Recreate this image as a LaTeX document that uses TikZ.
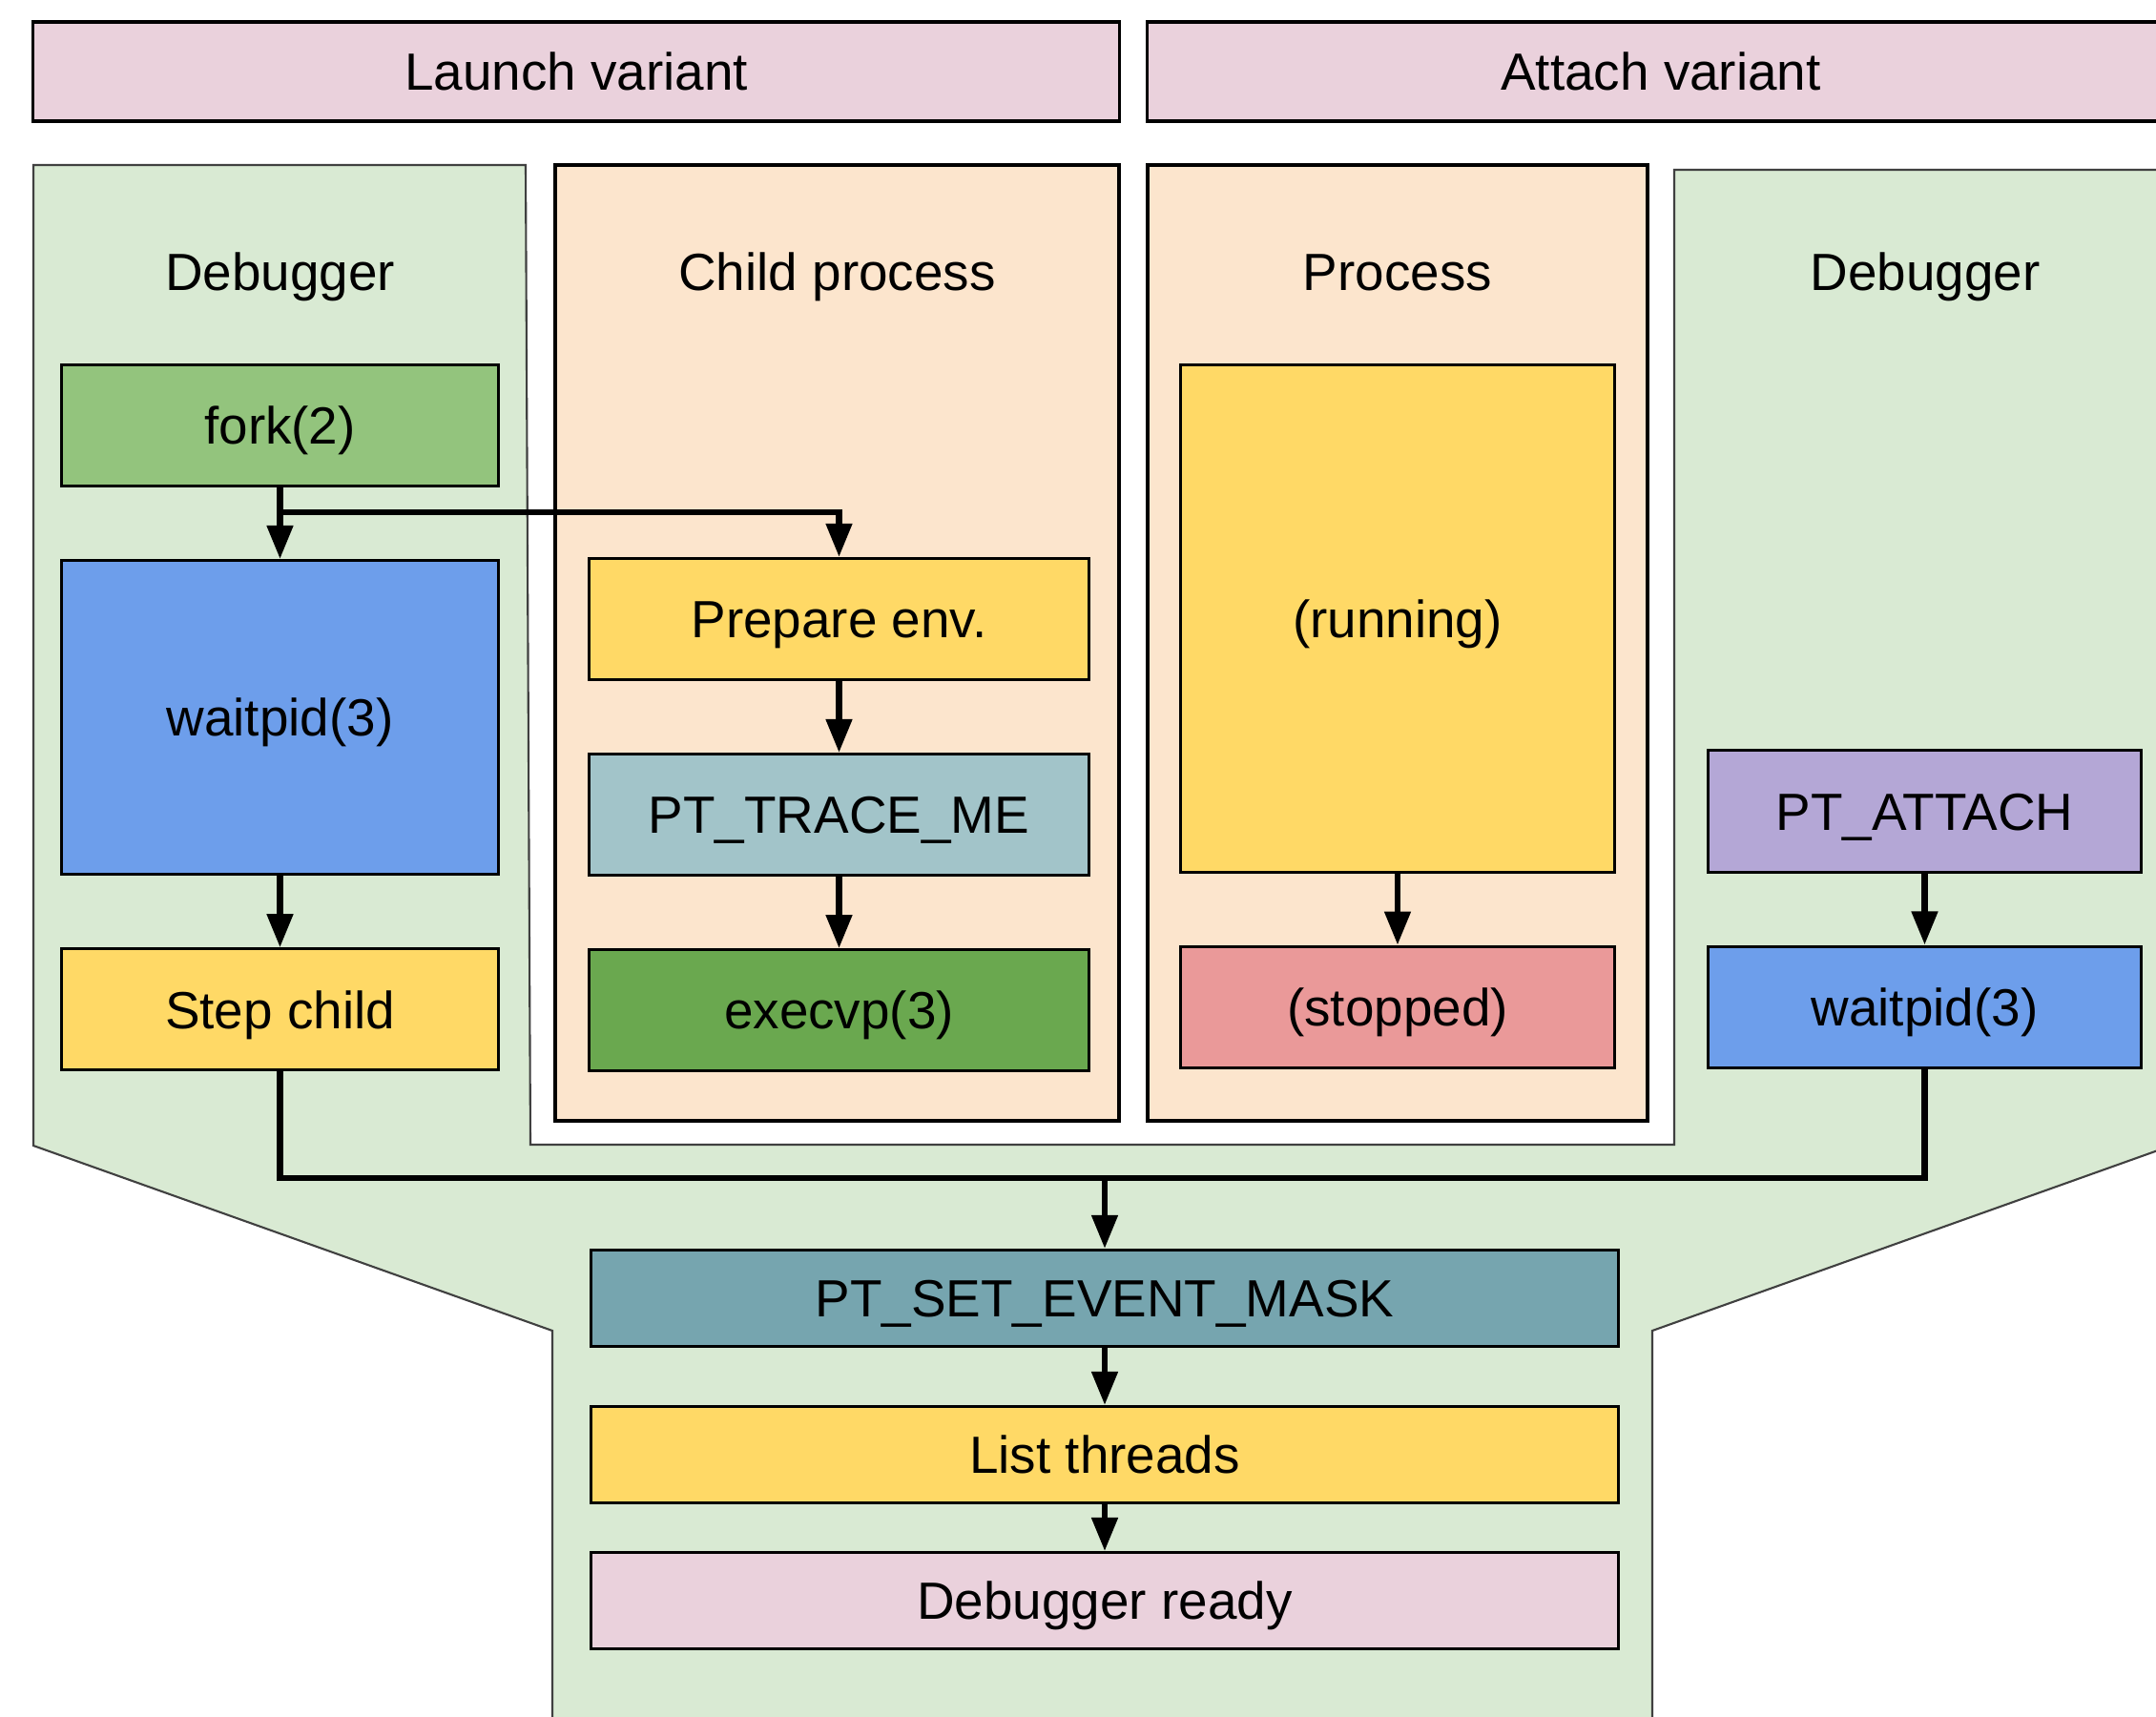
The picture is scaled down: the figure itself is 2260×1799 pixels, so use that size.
\documentclass[tikz,border=0pt]{standalone}
\usepackage{fontspec}
\setmainfont{Liberation Sans}
\usetikzlibrary{arrows.meta,positioning}
\definecolor{variantpink}{HTML}{EAD1DC}
\definecolor{debuggergreen}{HTML}{D9EAD3}
\definecolor{processpeach}{HTML}{FCE5CD}
\definecolor{forkgreen}{HTML}{93C47D}
\definecolor{execgreen}{HTML}{6AA84F}
\definecolor{waitblue}{HTML}{6D9EEB}
\definecolor{stepyellow}{HTML}{FFD966}
\definecolor{tracecyan}{HTML}{A2C4C9}
\definecolor{maskcyan}{HTML}{76A5AF}
\definecolor{stoppedred}{HTML}{EA9999}
\definecolor{attachpurple}{HTML}{B4A7D6}
\tikzset{
	call/.style={
		rectangle,
		draw=black, line width=0.85pt,
		minimum height=1.27cm,
		inner sep=2pt,
		text height=11.2pt, text depth=0pt,
		text centered,
	},
	variant/.style={
		call, fill=variantpink, line width=1pt,
		minimum height=1.04cm,
	},
	lane/.style={draw=black, line width=1pt, fill=processpeach},
	title/.style={anchor=base},
	flow/.style={line width=1.9pt, -{Triangle[length=10pt,width=7.5pt]}},
}

\begin{document}
\begin{tikzpicture}[x=0.01cm, y=-0.01cm, node distance=0.75cm, font=\fontsize{15.6pt}{18pt}\selectfont]
\useasboundingbox (0,0) rectangle (2260,1799);

% debugger background with the notch for the two processes
\filldraw[fill=debuggergreen, draw=black!75, line width=0.6pt] (35,173) -- (551,173) -- (556,1200) -- (1755,1200) -- (1755,178) -- (2290,178) -- (2290,1196) -- (1732,1395) -- (1732,1830) -- (579,1830) -- (579,1395) -- (35,1201) -- cycle;
\draw[lane] (582,173) rectangle (1173,1175);
\draw[lane] (1203,173) rectangle (1727,1175);

\node	(launch)	[variant, minimum width=11.38cm]	at (604,75)	{Launch variant};
\node	(attach)	[variant, minimum width=10.76cm]	at (1741,75)	{Attach variant};

\node	(dbgleft)	[title]	at (293.5,304)	{Debugger};
\node	(child)		[title]	at (877.5,304)	{Child process};
\node	(proc)		[title]	at (1465,304)	{Process};
\node	(dbgright)	[title]	at (2018,304)	{Debugger};

\node	(fork)		[call, fill=forkgreen, minimum width=4.57cm]	at (293.5,446)	{fork(2)};
\node	(waitpid)	[call, fill=waitblue, minimum width=4.57cm, minimum height=3.29cm]	[below=of fork]	{waitpid(3)};
\node	(step)		[call, fill=stepyellow, minimum width=4.57cm]	[below=of waitpid]	{Step child};

\node	(prepare)	[call, fill=stepyellow, minimum width=5.23cm]	at (879.5,649)	{Prepare env.};
\node	(traceme)	[call, fill=tracecyan, minimum width=5.23cm]	[below=of prepare]	{PT\_TRACE\_ME};
\node	(execvp)	[call, fill=execgreen, minimum width=5.23cm]	[below=of traceme]	{execvp(3)};

\node	(running)	[call, fill=stepyellow, minimum width=4.54cm, minimum height=5.31cm]	at (1465,648.5)	{(running)};
\node	(stopped)	[call, fill=stoppedred, minimum width=4.54cm]	[below=of running]	{(stopped)};

\node	(ptattach)	[call, fill=attachpurple, minimum width=4.53cm]	at (2017.5,850.5)	{PT\_ATTACH};
\node	(waitpid2)	[call, fill=waitblue, minimum width=4.53cm]	[below=of ptattach]	{waitpid(3)};

\node	(setmask)	[call, fill=maskcyan, minimum width=10.76cm, minimum height=1.01cm]	at (1158,1361)	{PT\_SET\_EVENT\_MASK};
\node	(threads)	[call, fill=stepyellow, minimum width=10.76cm, minimum height=1.01cm]	[below=6mm of setmask]	{List threads};
\node	(ready)		[call, fill=variantpink, minimum width=10.76cm, minimum height=1.01cm]	[below=4.9mm of threads]	{Debugger ready};

\coordinate (merge) at (1158,1235);

\path[flow] (fork) edge (waitpid);
\draw[flow] (fork.south) -- ++(0,26) -| (prepare.north);
\path[flow] (waitpid) edge (step);
\path[flow] (prepare) edge (traceme);
\path[flow] (traceme) edge (execvp);
\path[flow] (running) edge (stopped);
\path[flow] (ptattach) edge (waitpid2);
\draw[line width=1.9pt] (step.south) |- (merge) -| (waitpid2.south);
\path[flow] (merge) edge (setmask);
\path[flow] (setmask) edge (threads);
\path[flow] (threads) edge (ready);

\end{tikzpicture}
\end{document}
